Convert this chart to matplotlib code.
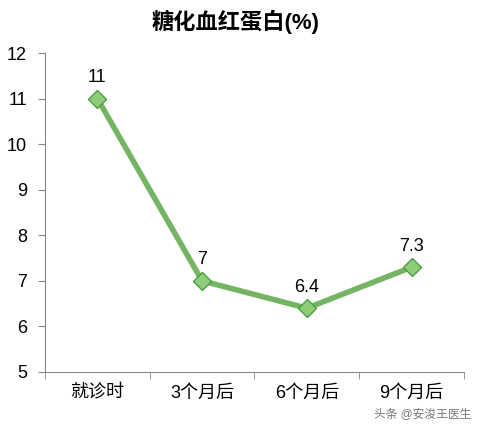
import matplotlib.pyplot as plt
import numpy as np

plt.rcParams['font.family'] = ['Liberation Sans', 'Noto Sans CJK SC', 'DejaVu Sans']

categories = ['就诊时', '3个月后', '6个月后', '9个月后']
values = [11, 7, 6.4, 7.3]
value_labels = ['11', '7', '6.4', '7.3']

fig = plt.figure(figsize=(4.81, 4.30), dpi=100)
ax = fig.add_axes([0.0936, 0.1349, 0.871, 0.7418])

x = np.arange(len(categories))
ax.plot(x, values, color='#74b462', linewidth=4, zorder=2)
ax.plot(x, values, linestyle='none', marker='D', markersize=9,
        markerfacecolor='#8ccf78', markeredgecolor='#4f9a45', markeredgewidth=1, zorder=3)

for xi, v, lab in zip(x, values, value_labels):
    ax.annotate(lab, (xi, v), xytext=(0, 9), textcoords='offset points',
                ha='center', va='bottom', fontsize=13)

ax.set_xlim(-0.5, len(categories) - 0.5)
ax.set_ylim(5, 12)
ax.set_yticks(range(5, 13))
ax.set_yticklabels([str(i) for i in range(5, 13)], fontsize=13)

ax.set_xticks(x)
ax.set_xticklabels(categories, fontsize=13)
ax.set_xticks(np.arange(-0.5, len(categories)), minor=True)
ax.tick_params(axis='x', which='major', length=0, pad=9)
ax.tick_params(axis='x', which='minor', length=5, color='#868686', direction='out')
ax.tick_params(axis='y', length=5, color='#868686', direction='out', pad=8)

for s in ['top', 'right']:
    ax.spines[s].set_visible(False)
for s in ['left', 'bottom']:
    ax.spines[s].set_color('#868686')

fig.text(0.49, 0.948, '糖化血红蛋白(%)', ha='center', va='center', fontsize=16, fontweight='bold')
fig.text(0.98, 0.035, '头条 @安浚王医生', ha='right', va='center', fontsize=8.5, color='#777777')

fig.savefig('out.png', dpi=100)
